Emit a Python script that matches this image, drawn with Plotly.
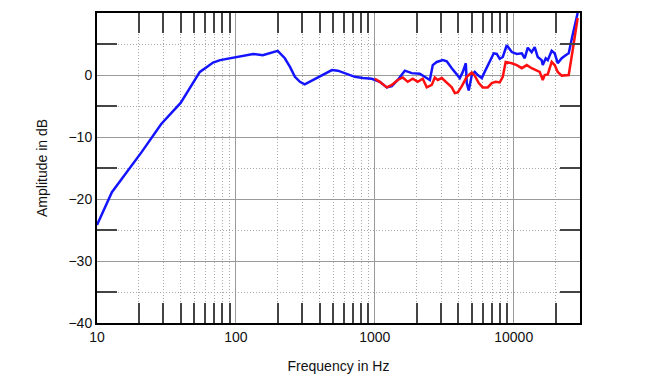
import plotly.graph_objects as go

# Blue curve (frequency in Hz, amplitude in dB)
blue_f = [10, 12.8, 21, 27, 29, 40, 55, 61.8, 68.5, 77, 100, 133, 156, 185, 200, 225, 245, 266,
          289, 313, 358, 416, 491, 542, 629, 718, 820, 951, 1086, 1220, 1325, 1463, 1644, 1845,
          2108, 2290, 2490, 2613, 2793, 3085, 3296, 3581, 3890, 4090, 4300, 4520, 4590, 4745,
          4990, 5240, 5510, 5890, 6180, 6710, 7180, 7550, 7930, 8340, 8910, 9680, 10520, 11430,
          12000, 12620, 13460, 14160, 14890, 15890, 16180, 17000, 17580, 18760, 19720, 20730,
          22150, 23660, 24880, 26570, 27930, 28860]
blue_db = [-24.2, -18.9, -12.4, -8.9, -7.9, -4.5, 0.5, 1.3, 2.0, 2.4, 2.9, 3.4, 3.2, 3.7, 3.9, 2.7, 1.3, -0.3,
           -1.1, -1.5, -0.8, 0.0, 0.8, 0.7, 0.2, -0.3, -0.5, -0.6, -1.1, -2.0, -1.8, -0.8, 0.7, 0.3,
           0.2, -0.3, -0.8, 1.6, 2.1, 2.4, 2.2, 1.1, 0.0, -0.5, 0.5, 1.9, -1.3, -2.5,
           0.0, 0.5, 0.0, -0.5, 0.5, 2.1, 3.5, 3.4, 2.6, 2.9, 4.8, 3.7, 3.4, 3.5,
           2.7, 4.4, 3.7, 4.5, 2.9, 2.4, 1.6, 2.7, 2.4, 3.9, 3.5, 1.9,
           2.7, 3.2, 3.5, 6.5, 8.4, 10.0]

# Red curve
red_f = [1000, 1086, 1220, 1325, 1463, 1590, 1726, 1875, 2037, 2213, 2366, 2570, 2703, 2838, 3034,
         3296, 3581, 3767, 3957, 4230, 4590, 4990, 5240, 5600, 5980, 6500, 6950, 7420, 7930, 8340,
         8750, 9680, 10520, 11430, 12420, 13460, 14620, 15380, 16180, 16710, 17580, 18760, 19720,
         20730, 22150, 24040, 24880, 26570, 27930, 28860]
red_db = [-0.6, -1.1, -2.0, -1.6, -0.8, -0.4, -1.1, -0.6, -1.1, -0.6, -2.0, -1.6, -0.4, -0.8, -0.5,
          -1.3, -2.0, -2.9, -2.8, -1.8, -0.3, 0.4, -0.1, -1.3, -2.0, -2.0, -1.3, -1.1, -1.2, -0.3,
          2.1, 1.9, 1.6, 1.1, 1.6, 1.1, 0.8, 0.5, -0.8, 0.0, 0.1, 2.1, 1.6,
          0.5, -0.1, -0.1, 0.0, 4.0, 7.3, 9.2]

x_major = [10, 100, 1000, 10000]
x_minor = [20, 30, 40, 50, 60, 70, 80, 90, 200, 300, 400, 500, 600, 700, 800, 900,
           2000, 3000, 4000, 5000, 6000, 7000, 8000, 9000, 20000]
y_major = [-40, -30, -20, -10, 0, 10]
y_minor = [-35, -25, -15, -5, 5]

font = "Liberation Sans, Arial, sans-serif"

fig = go.Figure()
fig.add_trace(go.Scatter(x=blue_f, y=blue_db, mode="lines",
                         line=dict(color="#1414ff", width=2.5), showlegend=False))
fig.add_trace(go.Scatter(x=red_f, y=red_db, mode="lines",
                         line=dict(color="#ff1010", width=2.5), showlegend=False))

fig.update_layout(
    width=654, height=373,
    margin=dict(l=89, r=82, t=5, b=58, autoexpand=False),
    paper_bgcolor="white", plot_bgcolor="white",
    font=dict(family=font, size=14, color="#111"),
)
fig.update_xaxes(
    type="log", range=[1, 4.4771], automargin=False,
    tickmode="array", tickvals=x_major, ticktext=[str(v) for v in x_major],
    ticks="", showgrid=True, gridcolor="#9a9a9a", gridwidth=1,
    showline=True, linecolor="black", linewidth=2, mirror="ticks",
    minor=dict(tickmode="array", tickvals=x_minor, ticks="inside", ticklen=20,
               tickwidth=2, tickcolor="#444", showgrid=True, gridcolor="#a8a8a8",
               griddash="1px,2px", gridwidth=1),
    title=dict(text="Frequency in Hz", font=dict(size=14), standoff=17),
    zeroline=False,
)
fig.update_yaxes(
    range=[-40, 10], automargin=False,
    tickmode="array", tickvals=y_major,
    ticks="", showgrid=True, gridcolor="#9a9a9a", gridwidth=1,
    showline=True, linecolor="black", linewidth=2, mirror="ticks",
    minor=dict(tickmode="array", tickvals=y_minor, ticks="inside", ticklen=20,
               tickwidth=2, tickcolor="#444", showgrid=True, gridcolor="#a8a8a8",
               griddash="1px,2px", gridwidth=1),
    title=dict(text="Amplitude in dB", font=dict(size=14), standoff=18),
    zeroline=False,
)

fig.write_html("out.html")
